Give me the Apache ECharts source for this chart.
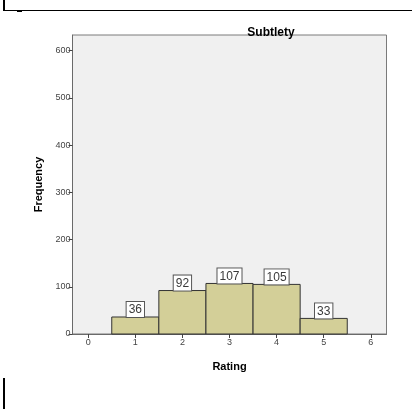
<!DOCTYPE html>
<html>
<head>
<meta charset="utf-8">
<script src="https://cdn.jsdelivr.net/npm/echarts@6/dist/echarts.min.js"></script>
<style>
html,body{margin:0;padding:0;background:#fff;}
#chart{width:412px;height:409px;}
</style>
</head>
<body>
<div id="chart"></div>
<script>
var ratings = [1, 2, 3, 4, 5];
var frequencies = [36, 92, 107, 105, 33];
var xTicks = [0, 1, 2, 3, 4, 5, 6];
var yTicks = [0, 100, 200, 300, 400, 500, 600];

var chart = echarts.init(document.getElementById('chart'), null, {renderer: 'canvas'});
var FONT = 'Liberation Sans, Arial, sans-serif';

var data = ratings.map(function (r, i) { return [r, frequencies[i]]; });

var option = {
  animation: false,
  backgroundColor: '#ffffff',
  title: {
    text: 'Subtlety',
    left: 266, top: 22, textAlign: 'center',
    textStyle: {fontFamily: FONT, fontSize: 12, fontWeight: 'bold', color: '#000'}
  },
  grid: {
    left: 72.5, right: 25.5, top: 35, bottom: 75,
    show: true, backgroundColor: '#f0f0f0', borderColor: '#7a7a7a', borderWidth: 1
  },
  xAxis: {
    type: 'value', min: -1/3, max: 6 + 1/3,
    name: 'Rating', nameLocation: 'middle', nameGap: 27,
    nameTextStyle: {fontFamily: FONT, fontSize: 11, fontWeight: 'bold', color: '#000'},
    axisLine: {show: true, onZero: false, lineStyle: {color: '#6a6a6a'}},
    axisTick: {show: true, length: 4, customValues: xTicks, lineStyle: {color: '#444'}},
    axisLabel: {customValues: xTicks, fontFamily: FONT, fontSize: 9, color: '#444', margin: 4},
    splitLine: {show: false}
  },
  yAxis: {
    type: 'value', min: 0, max: 633,
    name: 'Frequency', nameLocation: 'middle', nameGap: 26, nameRotate: 90,
    nameTextStyle: {fontFamily: FONT, fontSize: 11, fontWeight: 'bold', color: '#000'},
    axisLine: {show: true, onZero: false, lineStyle: {color: '#6a6a6a'}},
    axisTick: {show: true, length: 4, customValues: yTicks, lineStyle: {color: '#444'}},
    axisLabel: {customValues: yTicks, fontFamily: FONT, fontSize: 9, color: '#444', margin: 2},
    splitLine: {show: false}
  },
  series: [{
    type: 'custom',
    data: data,
    renderItem: function (params, api) {
      var x = api.value(0), y = api.value(1);
      var p0 = api.coord([x - 0.5, y]);
      var p1 = api.coord([x + 0.5, 0]);
      var top = api.coord([x, y]);
      return {
        type: 'group',
        children: [{
          type: 'rect',
          shape: {x: p0[0], y: p0[1], width: p1[0] - p0[0], height: p1[1] - p0[1]},
          style: {fill: '#d3cf98', stroke: '#333333', lineWidth: 1}
        }, {
          type: 'text',
          x: top[0], y: top[1],
          style: {
            text: String(y), x: 0, y: 0, align: 'center', verticalAlign: 'bottom',
            fontFamily: FONT, fontSize: 12, fill: '#3a3a3a',
            backgroundColor: '#ffffff', borderColor: '#555', borderWidth: 1,
            padding: [2, 2, 1, 2]
          },
          z2: 10
        }]
      };
    }
  }],
  graphic: [
    {type: 'line', shape: {x1: 4, y1: 0, x2: 4, y2: 10}, style: {stroke: '#000', lineWidth: 2}},
    {type: 'line', shape: {x1: 3, y1: 10.5, x2: 412, y2: 10.5}, style: {stroke: '#000', lineWidth: 1}},
    {type: 'line', shape: {x1: 17, y1: 11.5, x2: 22, y2: 11.5}, style: {stroke: '#000', lineWidth: 1}},
    {type: 'line', shape: {x1: 4, y1: 378, x2: 4, y2: 409}, style: {stroke: '#000', lineWidth: 2}}
  ]
};
chart.setOption(option);
</script>
</body>
</html>
